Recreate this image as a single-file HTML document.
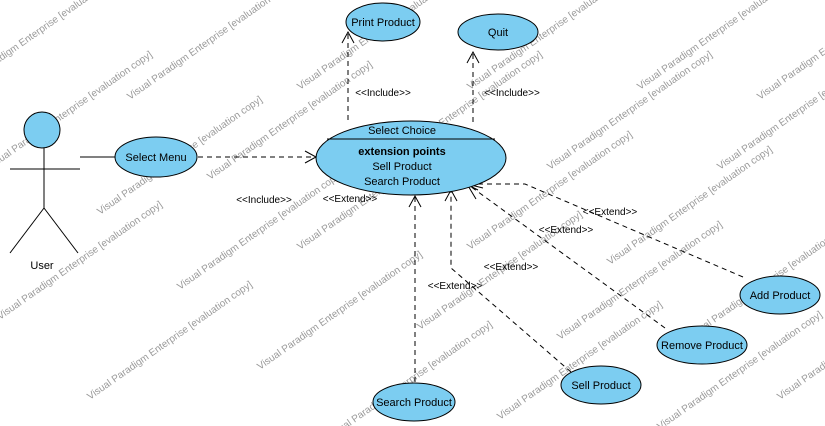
<!DOCTYPE html>
<html><head><meta charset="utf-8"><style>
body{margin:0;background:#fff;}
svg{display:block;}
text{font-family:"Liberation Sans",Arial,sans-serif;}
</style></head><body>
<svg width="825" height="426" viewBox="0 0 825 426" xmlns="http://www.w3.org/2000/svg">
<g fill="#9a9a9a" font-size="10">
<!-- watermarks -->
<g id="wm">
<text transform="translate(-40,90) rotate(-35)">Visual Paradigm Enterprise [evaluation copy]</text>
<text transform="translate(130,100) rotate(-35)">Visual Paradigm Enterprise [evaluation copy]</text>
<text transform="translate(300,90) rotate(-35)">Visual Paradigm Enterprise [evaluation copy]</text>
<text transform="translate(470,90) rotate(-35)">Visual Paradigm Enterprise [evaluation copy]</text>
<text transform="translate(640,90) rotate(-35)">Visual Paradigm Enterprise [evaluation copy]</text>
<text transform="translate(760,100) rotate(-35)">Visual Paradigm Enterprise [evaluation copy]</text>
<text transform="translate(-10,170) rotate(-35)">Visual Paradigm Enterprise [evaluation copy]</text>
<text transform="translate(100,215) rotate(-35)">Visual Paradigm Enterprise [evaluation copy]</text>
<text transform="translate(210,180) rotate(-35)">Visual Paradigm Enterprise [evaluation copy]</text>
<text transform="translate(380,170) rotate(-35)">Visual Paradigm Enterprise [evaluation copy]</text>
<text transform="translate(550,170) rotate(-35)">Visual Paradigm Enterprise [evaluation copy]</text>
<text transform="translate(720,170) rotate(-35)">Visual Paradigm Enterprise [evaluation copy]</text>
<text transform="translate(0,320) rotate(-35)">Visual Paradigm Enterprise [evaluation copy]</text>
<text transform="translate(180,290) rotate(-35)">Visual Paradigm Enterprise [evaluation copy]</text>
<text transform="translate(300,250) rotate(-35)">Visual Paradigm Enterprise [evaluation copy]</text>
<text transform="translate(470,250) rotate(-35)">Visual Paradigm Enterprise [evaluation copy]</text>
<text transform="translate(610,265) rotate(-35)">Visual Paradigm Enterprise [evaluation copy]</text>
<text transform="translate(90,400) rotate(-35)">Visual Paradigm Enterprise [evaluation copy]</text>
<text transform="translate(260,370) rotate(-35)">Visual Paradigm Enterprise [evaluation copy]</text>
<text transform="translate(420,330) rotate(-35)">Visual Paradigm Enterprise [evaluation copy]</text>
<text transform="translate(560,340) rotate(-35)">Visual Paradigm Enterprise [evaluation copy]</text>
<text transform="translate(690,340) rotate(-35)">Visual Paradigm Enterprise [evaluation copy]</text>
<text transform="translate(330,440) rotate(-35)">Visual Paradigm Enterprise [evaluation copy]</text>
<text transform="translate(500,420) rotate(-35)">Visual Paradigm Enterprise [evaluation copy]</text>
<text transform="translate(660,430) rotate(-35)">Visual Paradigm Enterprise [evaluation copy]</text>
<text transform="translate(780,400) rotate(-35)">Visual Paradigm Enterprise [evaluation copy]</text>
</g>
</g>

<g stroke="#000" fill="none" stroke-width="1">
<!-- actor -->
<circle cx="42" cy="130" r="18" fill="#7ccdf1"/>
<line x1="44" y1="148" x2="44" y2="208"/>
<line x1="10" y1="169" x2="80" y2="169"/>
<line x1="44" y1="208" x2="10" y2="253"/>
<line x1="44" y1="208" x2="78" y2="253"/>
<line x1="80" y1="157" x2="115" y2="157"/>
<!-- dashed connectors -->
<g stroke-dasharray="5,4">
<line x1="198" y1="157" x2="316" y2="157"/>
<line x1="348" y1="120" x2="348" y2="33"/>
<line x1="473" y1="122" x2="473" y2="52"/>
<line x1="415" y1="382" x2="415" y2="196"/>
<polyline points="571,372 451,268 451,190"/>
<line x1="665" y1="328" x2="470" y2="186"/>
<polyline points="743,277 525,184 470,184"/>
</g>
<!-- arrowheads -->
<polyline points="305,151 316,157 305,163"/>
<polyline points="342,43 348,32 354,43"/>
<polyline points="467,63 473,52 479,63"/>
<polyline points="409,207 415,196 421,207"/>
<polyline points="445,201 451,190 457,201"/>
<polyline points="476,199 467,184 483,188"/>
<polyline points="478,178 466,184 478,190"/>
<!-- ellipses -->
<g fill="#7ccdf1">
<ellipse cx="383" cy="22" rx="37" ry="19"/>
<ellipse cx="498" cy="32" rx="40" ry="18"/>
<ellipse cx="156" cy="157" rx="41" ry="20"/>
<ellipse cx="411" cy="158" rx="95" ry="37"/>
<ellipse cx="414" cy="402" rx="41" ry="19"/>
<ellipse cx="601" cy="385" rx="40" ry="19"/>
<ellipse cx="702" cy="345" rx="45" ry="19"/>
<ellipse cx="780" cy="295" rx="40" ry="19"/>
</g>
<line x1="327" y1="139" x2="495" y2="139"/>
</g>

<g font-size="11" fill="#000" text-anchor="middle">
<text x="383" y="26">Print Product</text>
<text x="498" y="36">Quit</text>
<text x="156" y="161">Select Menu</text>
<text x="402" y="134">Select Choice</text>
<text x="402" y="155" font-weight="bold">extension points</text>
<text x="402" y="170">Sell Product</text>
<text x="402" y="185">Search Product</text>
<text x="414" y="406">Search Product</text>
<text x="601" y="389">Sell Product</text>
<text x="702" y="349">Remove Product</text>
<text x="780" y="299">Add Product</text>
<text x="42" y="269">User</text>
<text x="383" y="96" font-size="10">&lt;&lt;Include&gt;&gt;</text>
<text x="512" y="96" font-size="10">&lt;&lt;Include&gt;&gt;</text>
<text x="264" y="203" font-size="10">&lt;&lt;Include&gt;&gt;</text>
<text x="350" y="202" font-size="10">&lt;&lt;Extend&gt;&gt;</text>
<text x="610" y="215" font-size="10">&lt;&lt;Extend&gt;&gt;</text>
<text x="566" y="233" font-size="10">&lt;&lt;Extend&gt;&gt;</text>
<text x="511" y="270" font-size="10">&lt;&lt;Extend&gt;&gt;</text>
<text x="455" y="289" font-size="10">&lt;&lt;Extend&gt;&gt;</text>
</g>
</svg>
</body></html>
